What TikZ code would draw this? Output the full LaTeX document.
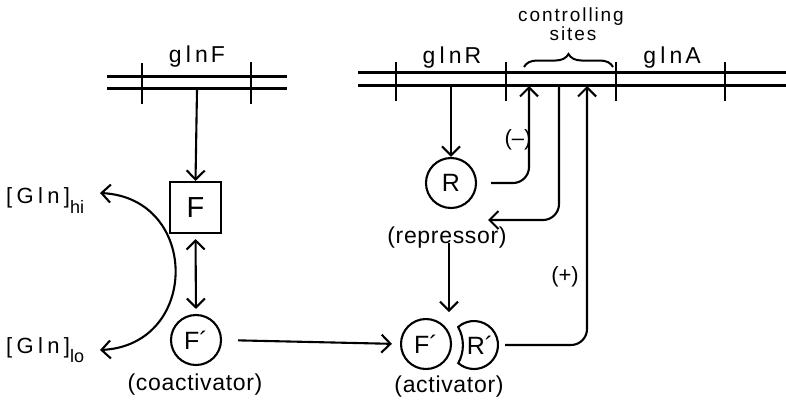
\documentclass[tikz,border=0pt]{standalone}
\usepackage{fontspec}
\setmainfont{Liberation Sans}
\usetikzlibrary{arrows.meta,decorations.pathreplacing,calc}
\begin{document}
\begin{tikzpicture}[x=1pt,y=1pt,
  line width=2.1pt,
  >={Straight Barb[length=9pt,width=18pt]},
  dna/.style={line width=3pt},
  dnatick/.style={line width=2.2pt},
  gene/.style={inner sep=0pt, font=\fontsize{23}{25}\selectfont\addfontfeature{LetterSpace=18}},
  lbl/.style={inner sep=0pt, font=\fontsize{23}{25}\selectfont\addfontfeature{LetterSpace=3}},
  sgn/.style={inner sep=0pt, font=\fontsize{22}{24}\selectfont},
  gln/.style={inner sep=0pt, font=\fontsize{22}{24}\selectfont\addfontfeature{LetterSpace=20}},
  small/.style={inner sep=0pt, font=\fontsize{19}{21}\selectfont\addfontfeature{LetterSpace=10}},
  circ/.style={circle, draw, minimum size=50pt, inner sep=0pt, font=\fontsize{25}{25}\selectfont},
  ]
\useasboundingbox (0,0) rectangle (786,-408);
% DNA left
\draw[dna] (107,-76) -- (287,-76);
\draw[dna] (107,-88) -- (287,-88);
\draw[dnatick] (142,-63) -- (142,-104);
\draw[dnatick] (251,-62) -- (251,-104);
% DNA right
\draw[dna] (358,-72) -- (786,-72);
\draw[dna] (358,-85) -- (786,-85);
\foreach \x in {396,506,616,725}{\draw[dnatick] (\x,-62) -- (\x,-101);}
% labels
\node[gene, anchor=base] (tF) at (197,-62) {gln\hspace{3pt}F};
\node[gene, anchor=base] (tR) at (452,-63) {gln\hspace{3pt}R};
\node[gene, anchor=base] (tA) at (672,-63) {gln\hspace{3pt}A};
\node[small, anchor=base] (ctl) at (571,-21) {controlling};
\node[small, anchor=base] (sit) at (573,-40) {sites};
\draw[line width=2pt, decoration={brace, amplitude=13pt}, decorate] (524,-67) -- (613,-67);
% coordinates on DNA
\coordinate (gF) at (197,-90);
\coordinate (gR) at (451,-87);
\coordinate (c1) at (529,-86);
\coordinate (c2) at (559,-87);
\coordinate (c3) at (587,-86);
% nodes
\node[draw, minimum size=51pt, inner sep=0pt, font=\fontsize{29}{29}\selectfont] (F) at (195.5,-207.5) {F};
\node[circ] (Fp) at (196,-340) {F´};
\node[circ] (R) at (451,-183) {R};
\node[circ] (Fa) at (426,-344) {F´};
\draw (474,-345) ++(131:24) arc[start angle=131,end angle=-131,radius=24] arc[start angle=-29,end angle=29,radius=37] -- cycle;
\node[inner sep=0pt, font=\fontsize{25}{25}\selectfont] (Rp) at (480,-345) {R´};
\coordinate (Rpr) at (498,-345);
\node[lbl, anchor=base] (coa) at (195,-390) {(coactivator)};
\node[lbl, anchor=base] (act) at (449,-392) {(activator)};
\node[lbl, anchor=base] (rep) at (447,-243) {(repressor)};
\node[sgn] (minus) at (518,-140) {(–)};
\node[sgn] (plus) at (565,-277) {(+)};
\node[gln, anchor=base west] (hi) at (5,-203) {[Gln]\raisebox{-10pt}{\fontsize{18}{18}\selectfont\addfontfeature{LetterSpace=0}hi}};
\node[gln, anchor=base west] (lo) at (5,-353) {[Gln]\raisebox{-9pt}{\fontsize{18}{18}\selectfont\addfontfeature{LetterSpace=0}lo}};
\coordinate (hiT) at (100,-193);
\coordinate (loT) at (100,-350);
\coordinate (rT) at (488,-220);
\coordinate (aT) at (449,-312);
% connectors
\draw[->] (gF) -- (F.north);
\draw[<->, shorten <=5pt, shorten >=5pt] (F.south) -- (Fp.north);
\draw[->, shorten <=16pt, shorten >=8pt] (Fp.east) -- (Fa.west);
\draw[<->] (hiT) .. controls (200,-198) and (200,-345) .. (loT);
\draw[->] (gR) -- (R.north);
\draw[->, rounded corners=16pt] ($(R.east)+(14,0)$) -| (c1);
\draw[->, rounded corners=16pt] (c2) |- (rT);
\draw[->, rounded corners=16pt] ($(Rpr)+(7,0)$) -| (c3);
\draw[->] (rep.base -| aT) -- (aT);
\end{tikzpicture}
\end{document}
